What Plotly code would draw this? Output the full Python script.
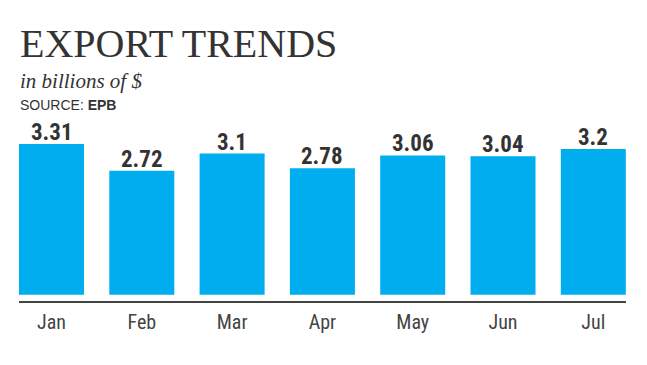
import plotly.graph_objects as go

months = ["Jan", "Feb", "Mar", "Apr", "May", "Jun", "Jul"]
exports = [3.31, 2.72, 3.1, 2.78, 3.06, 3.04, 3.2]
value_labels = ["3.31", "2.72", "3.1", "2.78", "3.06", "3.04", "3.2"]

title_text = "EXPORT TRENDS"
subtitle_text = "in billions of $"
source_text = "SOURCE: <b>EPB</b>"

W, H = 647, 365
ml, mr, mt, mb = 19, 21, 130, 64
COND = "Roboto Condensed, Liberation Sans Narrow, Roboto, sans-serif"

xs = list(range(len(months)))

fig = go.Figure(go.Bar(
    x=xs,
    y=exports,
    marker=dict(color="#00AEEF", line=dict(width=0)),
    hoverinfo="skip",
))

value_annotations = [
    dict(text=lbl, x=xi, y=v, xref="x", yref="y",
         xanchor="center", yanchor="bottom", yshift=-4, showarrow=False,
         font=dict(family=COND, size=23, color="#333333", weight="bold"))
    for xi, v, lbl in zip(xs, exports, value_labels)
]

fig.update_layout(
    width=W, height=H,
    margin=dict(l=ml, r=mr, t=mt, b=mb),
    paper_bgcolor="white", plot_bgcolor="white",
    bargap=0.28,
    showlegend=False,
    xaxis=dict(
        range=[-0.36, 6.362],
        tickmode="array",
        tickvals=xs,
        ticktext=months,
        showgrid=False, zeroline=False,
        showline=True, linecolor="#444444", linewidth=2,
        ticks="outside", ticklen=2, tickcolor="rgba(0,0,0,0)",
        tickfont=dict(family=COND, size=20, color="#444444"),
    ),
    yaxis=dict(
        range=[-0.14, 3.618],
        visible=False, showgrid=False, zeroline=False,
    ),
    annotations=value_annotations + [
        dict(text=title_text, xref="paper", yref="paper", x=0, y=1,
             xanchor="left", yanchor="bottom", xshift=-ml + 18, yshift=mt - 68,
             showarrow=False,
             font=dict(family="Liberation Serif, serif", size=40, color="#333333")),
        dict(text=subtitle_text, xref="paper", yref="paper", x=0, y=1,
             xanchor="left", yanchor="bottom", xshift=-ml + 18, yshift=mt - 95,
             showarrow=False,
             font=dict(family="Liberation Serif, serif", size=21, color="#333333",
                       style="italic")),
        dict(text=source_text, xref="paper", yref="paper", x=0, y=1,
             xanchor="left", yanchor="bottom", xshift=-ml + 18, yshift=mt - 115,
             showarrow=False,
             font=dict(family="Liberation Sans, Arial, sans-serif", size=14,
                       color="#333333")),
    ],
)

fig.write_html("out.html", config={"displayModeBar": False},
               post_script="document.body.style.margin='0';")
